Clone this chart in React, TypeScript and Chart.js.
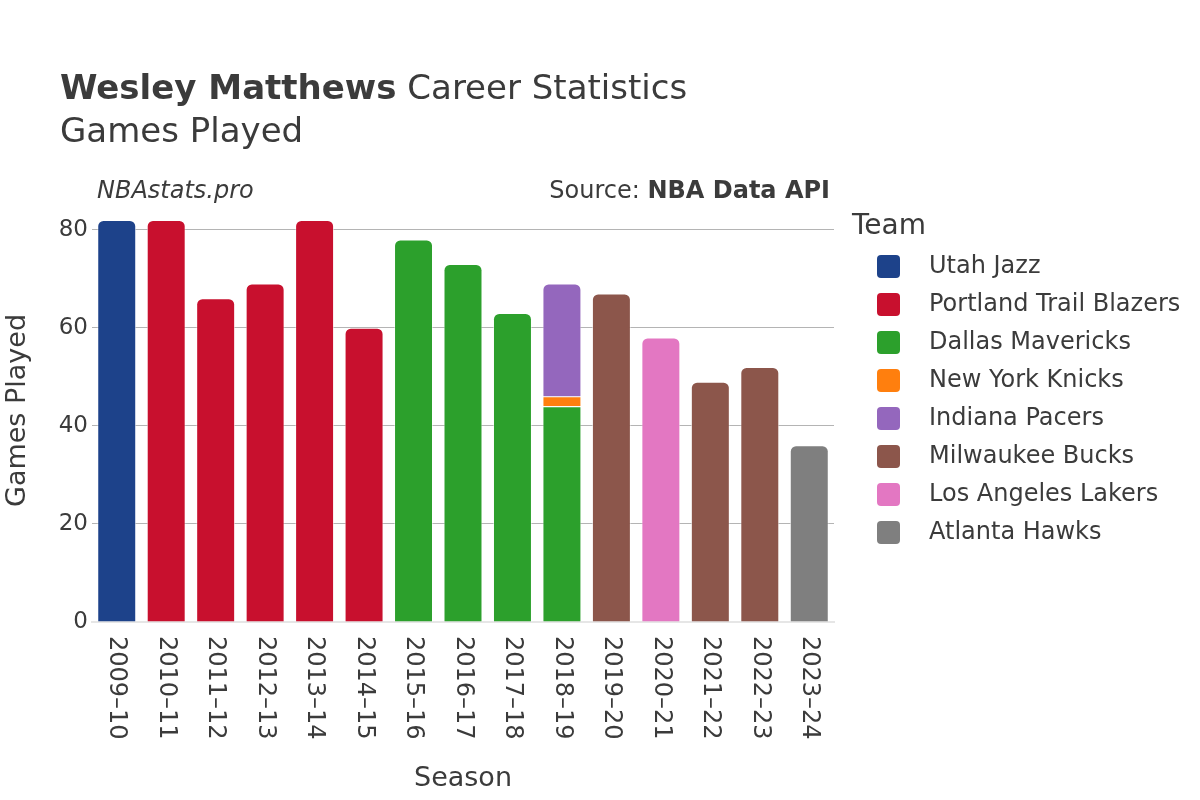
import React, { useEffect, useRef } from "react";
import { Chart, registerables } from "chart.js";

Chart.register(...registerables);

const seasons = ["2009–10", "2010–11", "2011–12", "2012–13", "2013–14", "2014–15", "2015–16", "2016–17", "2017–18", "2018–19", "2019–20", "2020–21", "2021–22", "2022–23", "2023–24"];
const utahJazz = [82, null, null, null, null, null, null, null, null, null, null, null, null, null, null];
const portland = [null, 82, 66, 69, 82, 60, null, null, null, null, null, null, null, null, null];
const dallas = [null, null, null, null, null, null, 78, 73, 63, 44, null, null, null, null, null];
const newYork = [null, null, null, null, null, null, null, null, null, 2, null, null, null, null, null];
const indiana = [null, null, null, null, null, null, null, null, null, 23, null, null, null, null, null];
const milwaukee = [null, null, null, null, null, null, null, null, null, null, 67, null, 49, 52, null];
const lakers = [null, null, null, null, null, null, null, null, null, null, null, 58, null, null, null];
const atlanta = [null, null, null, null, null, null, null, null, null, null, null, null, null, null, 36];
const yTicks = [0, 20, 40, 60, 80];

const teams = [
  { name: "Utah Jazz", data: utahJazz, color: "#1d428a" },
  { name: "Portland Trail Blazers", data: portland, color: "#c8102e" },
  { name: "Dallas Mavericks", data: dallas, color: "#2ca02c" },
  { name: "New York Knicks", data: newYork, color: "#ff7f0e" },
  { name: "Indiana Pacers", data: indiana, color: "#9467bd" },
  { name: "Milwaukee Bucks", data: milwaukee, color: "#8c564b" },
  { name: "Los Angeles Lakers", data: lakers, color: "#e377c2" },
  { name: "Atlanta Hawks", data: atlanta, color: "#7f7f7f" },
];

const FONT = "'DejaVu Sans', sans-serif";
const TEXT = "#3b3b3b";

function roundRect(ctx: CanvasRenderingContext2D, x: number, y: number, w: number, h: number, r: number) {
  ctx.beginPath();
  ctx.moveTo(x + r, y);
  ctx.lineTo(x + w - r, y);
  ctx.quadraticCurveTo(x + w, y, x + w, y + r);
  ctx.lineTo(x + w, y + h - r);
  ctx.quadraticCurveTo(x + w, y + h, x + w - r, y + h);
  ctx.lineTo(x + r, y + h);
  ctx.quadraticCurveTo(x, y + h, x, y + h - r);
  ctx.lineTo(x, y + r);
  ctx.quadraticCurveTo(x, y, x + r, y);
  ctx.closePath();
}

const decorPlugin = {
  id: "decor",
  afterDraw(chart: any) {
    const ctx: CanvasRenderingContext2D = chart.ctx;
    const area = chart.chartArea;
    ctx.save();
    // Title
    ctx.fillStyle = TEXT;
    ctx.textBaseline = "middle";
    ctx.textAlign = "left";
    ctx.font = `bold 34px ${FONT}`;
    const bold = "Wesley Matthews";
    ctx.fillText(bold, 60, 90);
    const bw = ctx.measureText(bold).width;
    ctx.font = `34px ${FONT}`;
    ctx.fillText(" Career Statistics", 60 + bw, 90);
    ctx.fillText("Games Played", 60, 133);
    // Credits
    ctx.font = `italic 24px ${FONT}`;
    ctx.fillText("NBAstats.pro", 97, 192);
    ctx.textAlign = "right";
    ctx.font = `bold 24px ${FONT}`;
    const src = "NBA Data API";
    ctx.fillText(src, 830, 192);
    const sw = ctx.measureText(src).width;
    ctx.font = `24px ${FONT}`;
    ctx.fillText("Source: ", 830 - sw, 192);
    // X tick labels rotated clockwise
    const xs = chart.scales.x;
    ctx.font = `24px ${FONT}`;
    ctx.textAlign = "left";
    ctx.textBaseline = "middle";
    seasons.forEach((s, i) => {
      const px = xs.getPixelForTick(i);
      ctx.save();
      ctx.translate(px, area.bottom + 14);
      ctx.rotate(Math.PI / 2);
      ctx.fillText(s, 0, 0);
      ctx.restore();
    });
    // Legend
    ctx.textAlign = "left";
    ctx.font = `28px ${FONT}`;
    ctx.fillText("Team", 852, 227);
    ctx.font = `24px ${FONT}`;
    chart.data.datasets.forEach((ds: any, i: number) => {
      const cy = 266 + i * 38;
      ctx.fillStyle = ds.backgroundColor;
      roundRect(ctx, 877, cy - 11, 23, 23, 4);
      ctx.fill();
      ctx.fillStyle = TEXT;
      ctx.fillText(ds.label, 929, cy + 1);
    });
    ctx.restore();
  },
};

export default function App() {
  const ref = useRef<HTMLCanvasElement | null>(null);
  useEffect(() => {
    if (!ref.current) return;
    const datasets = teams.map((t, di) => ({
      label: t.name,
      data: t.data,
      backgroundColor: t.color,
      borderColor: "rgba(255,255,255,0.7)",
      borderWidth: 0.8,
      borderSkipped: "start" as const,
      borderRadius: (c: any) => {
        const idx = c.dataIndex;
        const isTop = !teams.slice(di + 1).some((o) => o.data[idx] != null);
        return isTop ? { topLeft: 6, topRight: 6, bottomLeft: 0, bottomRight: 0 } : 0;
      },
      categoryPercentage: 1,
      barPercentage: 0.78,
    }));
    const chart = new Chart(ref.current, {
      type: "bar",
      data: { labels: seasons, datasets },
      options: {
        animation: false,
        responsive: false,
        maintainAspectRatio: false,
        layout: { padding: { left: 0, right: 366, top: 199, bottom: 0 } },
        plugins: { legend: { display: false }, tooltip: { enabled: false }, title: { display: false } },
        scales: {
          x: {
            stacked: true,
            grid: { display: false },
            border: { display: true, color: "#e6e6e6", width: 2 },
            ticks: { display: false },
            title: { display: true, text: "Season", color: TEXT, font: { family: FONT, size: 27 }, padding: { top: 0, bottom: 5 } },
            afterFit: (s: any) => { s.height = 178; },
          },
          y: {
            stacked: true,
            min: 0,
            max: 86.3,
            afterBuildTicks: (s: any) => { s.ticks = yTicks.map((v) => ({ value: v })); },
            grid: { color: (c: any) => (c.tick && c.tick.value === 0 ? "rgba(0,0,0,0)" : "#b4b4b4"), lineWidth: 1, drawTicks: false },
            border: { display: false },
            ticks: { color: TEXT, font: { family: FONT, size: 23 }, padding: 4 },
            title: { display: true, text: "Games Played", color: TEXT, font: { family: FONT, size: 27 }, padding: { top: 2, bottom: 0 } },
            afterFit: (s: any) => { s.width = 92; },
          },
        },
      },
      plugins: [decorPlugin],
    });
    return () => chart.destroy();
  }, []);
  return (
    <div style={{ position: "absolute", left: 0, top: 0, width: 1200, height: 800, background: "#fff" }}>
      <canvas ref={ref} width={1200} height={800} style={{ width: 1200, height: 800 }} />
    </div>
  );
}
